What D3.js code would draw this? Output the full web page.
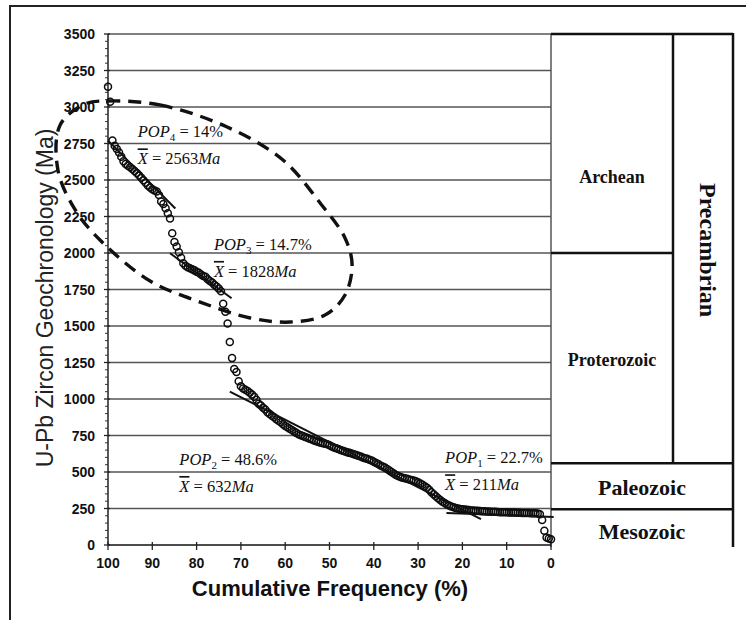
<!DOCTYPE html>
<html lang="en">
<head>
  <meta charset="UTF-8">
  <title>U-Pb Zircon Geochronology - Cumulative Frequency</title>
  <script src="https://d3js.org/d3.v7.min.js"></script>
  <style>
    body { margin: 0; background: #fff; }
    svg { display: block; }
    .tick-label { font-family: "Liberation Sans", Arial, sans-serif; font-weight: bold; font-size: 14px; fill: #111; }
    .grid { stroke: #555; stroke-width: 1.5; }
    .era { stroke: #111; stroke-width: 2.5; fill: none; }
    .pop { font-family: "Liberation Serif", "Times New Roman", serif; font-size: 16.5px; fill: #111; }
    .era-label { font-family: "Liberation Serif", "Times New Roman", serif; font-weight: bold; fill: #111; text-anchor: middle; }
    .dot { fill: none; stroke: #0d0d0d; stroke-width: 1.5; }
    .fit { stroke: #111; stroke-width: 2; }
    .oval { fill: none; stroke: #111; stroke-width: 3.4; stroke-dasharray: 13 8; }
  </style>
</head>
<body>
  <svg id="chart" width="746" height="620"></svg>

  <script>
    // zircon ages (Ma), sorted oldest -> youngest, every 0.5 % of cumulative frequency
    const ages = [
      3139, 3036, 2770, 2735, 2712, 2688, 2660, 2628, 2610, 2598,
      2588, 2575, 2562, 2548, 2532, 2515, 2498, 2482, 2462, 2448,
      2436, 2428, 2421, 2398, 2352, 2335, 2306, 2272, 2236, 2135,
      2075, 2045, 2005, 1968, 1930, 1912, 1902, 1895, 1889, 1881,
      1872, 1864, 1853, 1843, 1838, 1820, 1808, 1798, 1783, 1770,
      1756, 1738, 1652, 1598, 1517, 1390, 1280, 1205, 1185, 1122,
      1088, 1072, 1064, 1055, 1042, 1030, 1015, 995, 968, 955,
      940, 928, 910, 897, 886, 875, 862, 851, 840, 827,
      815, 806, 797, 788, 778, 768, 759, 752, 746, 740,
      734, 728, 722, 716, 710, 706, 701, 697, 694, 690,
      684, 675, 668, 662, 657, 651, 645, 640, 636, 631,
      626, 622, 617, 612, 607, 600, 595, 590, 584, 578,
      570, 562, 554, 545, 538, 530, 520, 510, 500, 490,
      480, 472, 466, 461, 457, 453, 449, 446, 441, 436,
      430, 422, 412, 402, 392, 378, 362, 347, 334, 320,
      308, 297, 287, 278, 270, 264, 258, 254, 250, 247,
      245, 243, 241, 239, 237, 236, 235, 234, 233, 232,
      231, 230, 229, 228, 227, 227, 226, 225, 225, 224,
      224, 223, 223, 222, 222, 221, 221, 220, 220, 219,
      219, 218, 218, 217, 215, 211, 172, 98, 52, 44,
      40
    ];

    const yTicks = [0, 250, 500, 750, 1000, 1250, 1500, 1750, 2000, 2250, 2500, 2750, 3000, 3250, 3500];
    const xTicks = [100, 90, 80, 70, 60, 50, 40, 30, 20, 10, 0];

    // regression lines per population: [cum %, Ma] end points
    const fitLines = [
      [[100, 2770], [84.8, 2305]],
      [[86, 1998], [72.1, 1690]],
      [[72.5, 1050], [15.8, 177]],
      [[23.6, 220], [-0.6, 192]]
    ];

    const popNames = ["4", "3", "2", "1"];
    const popShares = ["14%", "14.7%", "48.6%", "22.7%"];
    const popMeans = [2563, 1828, 632, 211];
    const popLabelAt = [[93.3, 2792], [76.1, 2021], [83.9, 548], [23.9, 560]];

    // dashed outline around POP3 + POP4
    const oval = [
      [100.2, 3041], [88.3, 3014], [73.1, 2863], [60.5, 2637], [52.1, 2342], [46.5, 2103],
      [44.9, 1918], [46.5, 1712], [51.0, 1575], [58.9, 1527], [67.9, 1555], [79.2, 1664],
      [90.5, 1808], [101.8, 2089], [107.4, 2295], [111.3, 2568], [110.8, 2877], [105.2, 3021]
    ];

    // geologic time scale
    const eraNames = ["Archean", "Proterozoic", "Paleozoic", "Mesozoic"];
    const eraTop = [3500, 2000, 560, 245];
    const eraLabelAge = [2480, 1225, 345, 40];
    const eonName = "Precambrian";
    const eonRange = [3500, 560];

    const svg = d3.select("#chart");
    const x = d3.scaleLinear().domain([100, 0]).range([108, 551]);
    const y = d3.scaleLinear().domain([0, 3500]).range([545, 34]);

    const colL = 551, colM = 673, colR = 733;

    // outer frame (only top + left visible)
    svg.append("rect").attr("x", 10).attr("y", 6).attr("width", 900).attr("height", 900)
      .attr("fill", "none").attr("stroke", "#222").attr("stroke-width", 2);

    // gridlines
    svg.selectAll(".grid-h").data(yTicks.filter(d => d > 0)).join("line")
      .attr("class", "grid")
      .attr("x1", x(100)).attr("x2", x(0))
      .attr("y1", d => y(d)).attr("y2", d => y(d));
    svg.append("line").attr("class", "grid")
      .attr("x1", x(0)).attr("x2", x(0)).attr("y1", y(3500)).attr("y2", y(0) + 2);

    // y axis
    svg.append("line").attr("stroke", "#222").attr("stroke-width", 1.5)
      .attr("x1", x(100)).attr("x2", x(100)).attr("y1", y(3500)).attr("y2", y(0));
    svg.selectAll(".ytick").data(yTicks).join("line")
      .attr("stroke", "#222").attr("stroke-width", 1.3)
      .attr("x1", x(100) - 4).attr("x2", x(100) + 2)
      .attr("y1", d => y(d)).attr("y2", d => y(d));
    svg.selectAll(".yminor").data(d3.range(0, 3500, 50).filter(d => d % 250 !== 0)).join("line")
      .attr("stroke", "#333").attr("stroke-width", 1)
      .attr("x1", x(100) - 3).attr("x2", x(100))
      .attr("y1", d => y(d)).attr("y2", d => y(d));
    svg.selectAll(".ylab").data(yTicks).join("text")
      .attr("class", "tick-label")
      .attr("x", 95).attr("y", d => y(d)).attr("dy", "0.36em")
      .attr("text-anchor", "end")
      .text(d => d);

    // x axis
    svg.append("line").attr("stroke", "#111").attr("stroke-width", 1.6)
      .attr("x1", x(100)).attr("x2", x(0)).attr("y1", y(0)).attr("y2", y(0));
    svg.selectAll(".xtick").data(xTicks).join("line")
      .attr("stroke", "#222").attr("stroke-width", 1.3)
      .attr("x1", d => x(d)).attr("x2", d => x(d))
      .attr("y1", y(0) - 3).attr("y2", y(0) + 5);
    svg.selectAll(".xlab").data(xTicks).join("text")
      .attr("class", "tick-label")
      .attr("x", d => x(d)).attr("y", 568)
      .attr("text-anchor", "middle")
      .text(d => d);

    // axis titles
    svg.append("text")
      .attr("transform", "translate(53,298) rotate(-90)")
      .attr("text-anchor", "middle")
      .style("font-family", "'Liberation Sans', Arial, sans-serif")
      .style("font-size", "23px").style("fill", "#222")
      .text("U-Pb Zircon Geochronology (Ma)");
    svg.append("text")
      .attr("x", 330).attr("y", 596)
      .attr("text-anchor", "middle")
      .style("font-family", "'Liberation Sans', Arial, sans-serif")
      .style("font-size", "22px").style("font-weight", "bold").style("fill", "#111")
      .text("Cumulative Frequency (%)");

    // data points: cumulative frequency from rank
    const n = ages.length;
    svg.selectAll(".dot").data(ages).join("circle")
      .attr("class", "dot")
      .attr("cx", (d, i) => x(100 * (n - 1 - i) / (n - 1)))
      .attr("cy", d => y(d))
      .attr("r", 3.5);

    // regression lines
    svg.selectAll(".fit").data(fitLines).join("line")
      .attr("class", "fit")
      .attr("x1", d => x(d[0][0])).attr("y1", d => y(d[0][1]))
      .attr("x2", d => x(d[1][0])).attr("y2", d => y(d[1][1]));

    // dashed oval
    svg.append("path")
      .datum(oval)
      .attr("class", "oval")
      .attr("d", d3.line().x(d => x(d[0])).y(d => y(d[1])).curve(d3.curveCatmullRomClosed));

    // population labels
    popNames.forEach((name, i) => {
      const [p, a] = popLabelAt[i];
      const t1 = svg.append("text").attr("class", "pop").attr("x", x(p)).attr("y", y(a));
      t1.append("tspan").attr("font-style", "italic").text("POP");
      t1.append("tspan").attr("font-size", "11px").attr("dy", 4).text(name);
      t1.append("tspan").attr("dy", -4).text(" = " + popShares[i]);

      const t2 = svg.append("text").attr("class", "pop").attr("x", x(p)).attr("y", y(a) + 27);
      t2.append("tspan").attr("font-style", "italic").style("text-decoration", "overline").text("X");
      t2.append("tspan").text(" = " + popMeans[i]);
      t2.append("tspan").attr("font-style", "italic").text("Ma");
    });

    // time scale column
    const era = svg.append("g");
    era.append("line").attr("class", "era").attr("x1", colL).attr("x2", colR).attr("y1", y(3500)).attr("y2", y(3500));
    era.append("line").attr("class", "era").attr("x1", colL).attr("x2", colM).attr("y1", y(eraTop[1])).attr("y2", y(eraTop[1]));
    era.append("line").attr("class", "era").attr("x1", colL).attr("x2", colR).attr("y1", y(eraTop[2])).attr("y2", y(eraTop[2]));
    era.append("line").attr("class", "era").attr("x1", colL).attr("x2", colR).attr("y1", y(eraTop[3])).attr("y2", y(eraTop[3]));
    era.append("line").attr("class", "era").attr("x1", colM).attr("x2", colM).attr("y1", y(eonRange[0])).attr("y2", y(eonRange[1]));
    era.append("line").attr("class", "era").attr("x1", colR).attr("x2", colR).attr("y1", y(3500) - 1).attr("y2", y(0) + 2);

    eraNames.forEach((name, i) => {
      const wide = i >= 2;
      era.append("text").attr("class", "era-label")
        .attr("x", wide ? (colL + colR) / 2 : (colL + colM) / 2)
        .attr("y", y(eraLabelAge[i]))
        .style("font-size", wide ? "22px" : "18px")
        .text(name);
    });
    era.append("text").attr("class", "era-label")
      .attr("transform", `translate(700,${y(2020)}) rotate(90)`)
      .style("font-size", "24px")
      .text(eonName);
  </script>
</body>
</html>
